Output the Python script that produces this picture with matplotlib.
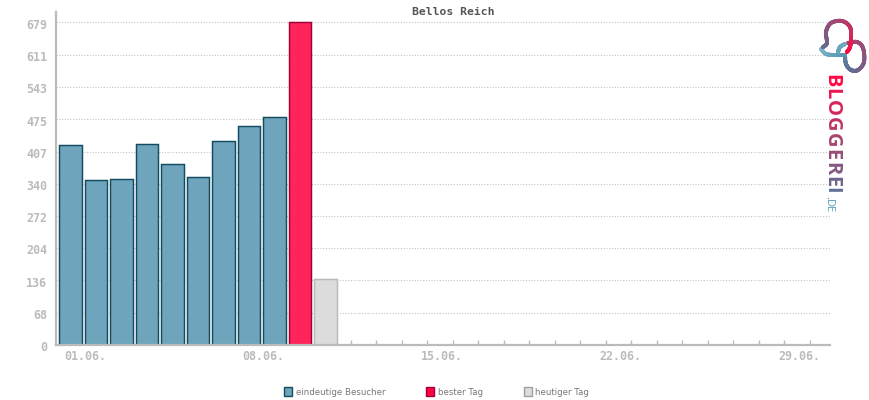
import numpy as np
import matplotlib
matplotlib.use("Agg")
import matplotlib.pyplot as plt
from matplotlib.collections import LineCollection
from matplotlib.colors import LinearSegmentedColormap
from matplotlib.patches import Patch

title = "Bellos Reich"
days = list(range(1, 31))
visitors = [422, 347, 349, 424, 382, 353, 429, 462, 481]
best_day = 10
best_value = 679
today = 11
today_value = 140
y_ticks = [0, 68, 136, 204, 272, 340, 407, 475, 543, 611, 679]
x_label_days = [1, 8, 15, 22, 29]
x_labels = ["01.06.", "08.06.", "15.06.", "22.06.", "29.06."]
legend_labels = ["eindeutige Besucher", "bester Tag", "heutiger Tag"]

W, H = 870, 400
L, R, T, B = 56, 830, 12, 345
AX = "#bbbbbb"
MONO = "DejaVu Sans Mono"

fig = plt.figure(figsize=(W / 100, H / 100), dpi=100, facecolor="white")
ax = fig.add_axes([L / W, 1 - B / H, (R - L) / W, (B - T) / H])
ax.set_xlim(1 - 14.5 / 25.5, 1 + (R - 70.5) / 25.5)
ax.set_ylim(0, (B - T) / 0.475)

lw = 1.05
bw = 0.89
ax.bar(days[:len(visitors)], visitors, width=bw, color="#6ea4bc", edgecolor="#134b5f", linewidth=lw, zorder=2)
ax.bar([best_day], [best_value], width=bw, color="#ff2459", edgecolor="#a0003a", linewidth=lw, zorder=2)
ax.bar([today], [today_value], width=bw, color="#dcdcdc", edgecolor="#b9b9b9", linewidth=lw, zorder=2)

for s in ("top", "right"):
    ax.spines[s].set_visible(False)
for s in ("left", "bottom"):
    ax.spines[s].set_color(AX)
    ax.spines[s].set_linewidth(1.6)
    ax.spines[s].set_zorder(3)

ax.set_yticks(y_ticks)
ax.set_yticklabels([])
ax.tick_params(axis="y", length=0)
for v in y_ticks:
    ax.annotate(str(v), xy=(0, v), xycoords=("axes fraction", "data"), xytext=(-6.3, -2), textcoords="offset points",
                ha="right", va="center", family=MONO, fontsize=8.4, color=AX, fontweight="bold",
                annotation_clip=False)
ax.yaxis.grid(True, color="#c4c4c4", linestyle=(0, (1, 1.5)), linewidth=0.8, zorder=0)
ax.set_axisbelow(True)

ax.set_xticks(days)
ax.set_xticklabels([])
ax.tick_params(axis="x", direction="in", length=3.5, width=1, color=AX)
for d, t in zip(x_label_days, x_labels):
    ax.annotate(t, xy=(d, 0), xycoords="data", xytext=(-4.5, -8), textcoords="offset points",
                ha="left", va="center", family=MONO, fontsize=8.4, color=AX, fontweight="bold",
                annotation_clip=False)

fig.text(453 / W, 1 - 12 / H, title, ha="center", va="center", family=MONO,
         fontsize=8.2, fontweight="bold", color="#555555")

handles = [Patch(facecolor="#6ea4bc", edgecolor="#134b5f", linewidth=1.0),
           Patch(facecolor="#ff0040", edgecolor="#a0003a", linewidth=1.0),
           Patch(facecolor="#dcdcdc", edgecolor="#a0a0a0", linewidth=1.0)]
fig.legend(handles, legend_labels, ncol=3, loc="center", bbox_to_anchor=(436.5 / W, 1 - 392 / H),
           frameon=False, fontsize=6.2, labelcolor="#777777", handlelength=0.95, handleheight=1.1,
           handletextpad=0.4, columnspacing=4.76, borderpad=0)

# logo overlay in pixel coordinates
ov = fig.add_axes([0, 0, 1, 1], facecolor="none")
ov.set_xlim(0, W)
ov.set_ylim(H, 0)
ov.axis("off")
cm = LinearSegmentedColormap.from_list("logo", ["#ff0a46", "#a8446f", "#5f6f95", "#5f9db8", "#8fc0cf"])

def smooth(pts, n=24):
    pts = np.array(pts, float)
    tt = np.linspace(0, len(pts) - 1, n * (len(pts) - 1))
    out = []
    for u in tt:
        i = min(int(u), len(pts) - 2)
        f = u - i
        p0 = pts[max(i - 1, 0)]
        p1 = pts[i]
        p2 = pts[i + 1]
        p3 = pts[min(i + 2, len(pts) - 1)]
        out.append(0.5 * (2 * p1 + (p2 - p0) * f + (2 * p0 - 5 * p1 + 4 * p2 - p3) * f**2 + (3 * p1 - p0 - 3 * p2 + p3) * f**3))
    return np.array(out)

def grad_line(pts, c0, c1, lw=2.8):
    xy = smooth(pts)
    segs = np.stack([xy[:-1], xy[1:]], axis=1)
    lc = LineCollection(segs, colors=cm(np.linspace(c0, c1, len(segs))), linewidths=lw, capstyle="round")
    ov.add_collection(lc)

# ring
grad_line([(848, 43), (857, 42), (863, 48), (864, 62), (858, 70), (851, 70), (846, 64), (845, 55)], 0.2, 0.6)
# connector
grad_line([(821, 49), (826, 54), (835, 55), (845, 55)], 0.95, 0.7)
grad_line([(845, 44), (840, 47), (838, 52)], 0.85, 0.8)
# bell
grad_line([(823, 47), (827, 43), (826, 32), (831, 23), (842, 21), (850, 27), (851, 38), (850, 47), (847, 52)], 0.5, 0.0)

letters = "BLOGGEREI"
ys = [80.5, 93.5, 107.5, 124.5, 140, 154.5, 168.5, 182, 190]
cols = cm(np.linspace(0.0, 0.5, len(letters)))
for ch, y, c in zip(letters, ys, cols):
    ov.text(831.5, y, ch, rotation=-90, ha="center", va="center", family="Open Sans",
            fontweight="bold", fontsize=14.5, color=c)
for ch, y, c in zip(".DE", [197, 203, 209], ["#3f7fa4", "#5a9dbc", "#5a9dbc"]):
    ov.text(828.5, y, ch, rotation=-90, ha="center", va="center", family="Open Sans",
            fontsize=8, color=c)

fig.savefig("out.png", dpi=100, facecolor="white")
